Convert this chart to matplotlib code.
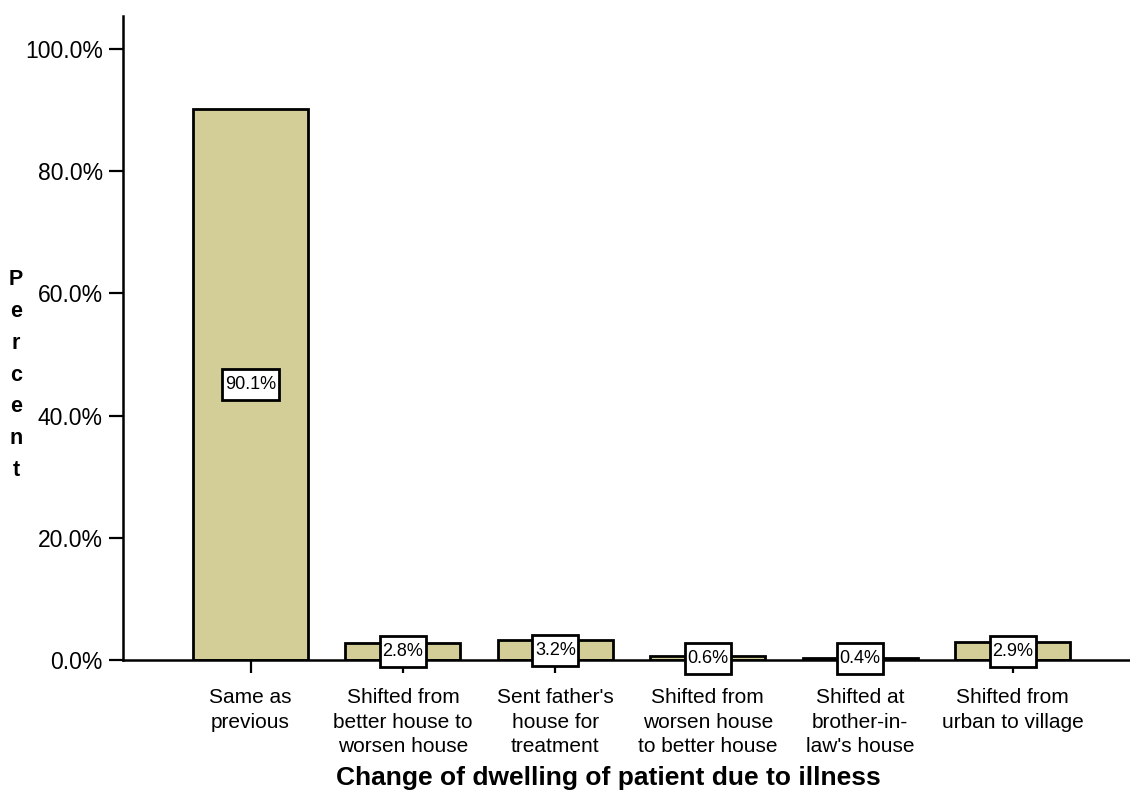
import matplotlib
matplotlib.use("Agg")
import matplotlib.pyplot as plt
import matplotlib.transforms as mtransforms
from matplotlib.patches import Rectangle

plt.rcParams['font.family'] = ['Liberation Sans', 'DejaVu Sans']

categories = [
    "Same as\nprevious",
    "Shifted from\nbetter house to\nworsen house",
    "Sent father's\nhouse for\ntreatment",
    "Shifted from\nworsen house\nto better house",
    "Shifted at\nbrother-in-\nlaw's house",
    "Shifted from\nurban to village",
]
percents = [90.1, 2.8, 3.2, 0.6, 0.4, 2.9]
y_ticks = [0, 20, 40, 60, 80, 100]
y_tick_labels = ["0.0%", "20.0%", "40.0%", "60.0%", "80.0%", "100.0%"]

W, H = 1130, 791
DPI = 100
fig = plt.figure(figsize=(W / DPI, H / DPI), dpi=DPI)
ax = fig.add_axes([123 / W, (H - 660) / H, (W - 123) / W, (660 - 16) / H])

bar_color = "#D3CE98"
x = list(range(len(categories)))
ax.bar(x, percents, width=0.755, color=bar_color, edgecolor="black", linewidth=2, zorder=2)

ax.set_xlim(-0.837, 5.771)
ax.set_ylim(0, 105.4)

# value labels: boxed text centred on each bar's midpoint
renderer = fig.canvas.get_renderer()
for xi, v in zip(x, percents):
    t = ax.text(xi, v / 2, f"{v:.1f}%", ha="center", va="center", fontsize=13, zorder=5)
    tw = t.get_window_extent(renderer).width / DPI  # inches
    bw = tw + 5 / DPI
    bh = 31 / DPI
    anchor = fig.dpi_scale_trans + mtransforms.ScaledTranslation(xi, v / 2, ax.transData)
    ax.add_patch(Rectangle((-bw / 2, -bh / 2), bw, bh, transform=anchor,
                           facecolor="white", edgecolor="black", linewidth=2,
                           zorder=4, clip_on=False))

ax.set_yticks(y_ticks)
ax.set_yticklabels(y_tick_labels, fontsize=16.5)
ax.set_xticks(x)
ax.set_xticklabels(categories, fontsize=15, linespacing=1.34)

ax.tick_params(axis="y", length=10, width=1.6, pad=4.5, direction="out")
ax.tick_params(axis="x", length=9.5, width=1.6, pad=11, direction="out")

for side in ("top", "right"):
    ax.spines[side].set_visible(False)
for side in ("left", "bottom"):
    ax.spines[side].set_linewidth(1.8)

fig.text(608.5 / W, 1 - 778 / H, "Change of dwelling of patient due to illness",
         ha="center", va="center", fontsize=19, fontweight="bold")
fig.text(16 / W, 1 - 375 / H, "\n".join("Percent"), ha="center", va="center",
         fontsize=15.5, fontweight="bold", linespacing=1.68)

fig.savefig("out.png", dpi=DPI)
